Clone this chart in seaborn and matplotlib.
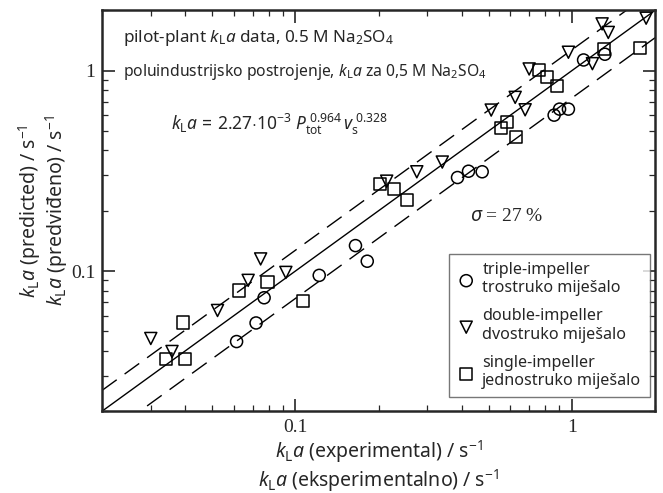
import pandas as pd
import matplotlib
matplotlib.use("Agg")
import matplotlib.pyplot as plt
import seaborn as sns

# data (kLa experimental vs predicted, s^-1)
triple_exp = [0.0613, 0.0721, 0.0771, 0.122, 0.165, 0.182, 0.386, 0.423, 0.474,
              0.863, 0.903, 0.972, 1.103, 1.317]
triple_pred = [0.0445, 0.0551, 0.0736, 0.0952, 0.134, 0.112, 0.293, 0.315, 0.313,
               0.600, 0.643, 0.643, 1.131, 1.208]

double_exp = [0.0300, 0.0358, 0.0523, 0.0675, 0.0749, 0.0924, 0.214, 0.275, 0.340,
              0.511, 0.624, 0.678, 0.701, 0.972, 1.187, 1.287, 1.355, 1.857]
double_pred = [0.0461, 0.0397, 0.0636, 0.0899, 0.115, 0.0985, 0.281, 0.313, 0.350,
               0.636, 0.736, 0.638, 1.020, 1.236, 1.084, 1.712, 1.552, 1.828]

single_exp = [0.0340, 0.0399, 0.0391, 0.0625, 0.0793, 0.107, 0.203, 0.228, 0.253,
              0.553, 0.583, 0.627, 0.760, 0.816, 0.887, 1.309, 1.769]
single_pred = [0.0365, 0.0365, 0.0554, 0.0800, 0.0883, 0.0708, 0.271, 0.257, 0.226,
               0.515, 0.556, 0.465, 1.012, 0.933, 0.839, 1.287, 1.294]

fit_x = [0.02, 2.0]
sigma = 0.27

groups = ["triple-impeller\ntrostruko miješalo",
          "double-impeller\ndvostruko miješalo",
          "single-impeller\njednostruko miješalo"]
markers = ["o", "v", "s"]

df = pd.concat([
    pd.DataFrame({"exp": triple_exp, "pred": triple_pred, "group": groups[0]}),
    pd.DataFrame({"exp": double_exp, "pred": double_pred, "group": groups[1]}),
    pd.DataFrame({"exp": single_exp, "pred": single_pred, "group": groups[2]}),
])

sns.set_style("ticks")
plt.rcParams["font.family"] = ["Noto Sans", "DejaVu Sans"]
plt.rcParams["mathtext.fontset"] = "custom"
plt.rcParams["mathtext.rm"] = "Noto Sans"
plt.rcParams["mathtext.it"] = "Noto Sans:italic"
plt.rcParams["mathtext.sf"] = "Noto Sans"

fig = plt.figure(figsize=(6.63, 4.93), dpi=100)
ax = fig.add_axes([0.154, 0.166, 0.834, 0.813])

# y = x and +/- sigma band
fit = pd.DataFrame({"x": fit_x, "y": fit_x,
                    "up": [v * (1 + sigma) for v in fit_x],
                    "lo": [v * (1 - sigma) for v in fit_x]})
sns.lineplot(data=fit, x="x", y="y", color="black", lw=1.0, ax=ax)
sns.lineplot(data=fit, x="x", y="up", color="black", lw=1.0, ax=ax, dashes=False)
sns.lineplot(data=fit, x="x", y="lo", color="black", lw=1.0, ax=ax, dashes=False)
for ln in ax.lines[1:3]:
    ln.set_dashes([13, 7])

for g, m in zip(groups, markers):
    sub = df[df["group"] == g]
    sns.scatterplot(data=sub, x="exp", y="pred", marker=m, s=75,
                    facecolor="none", edgecolor="black", linewidth=1.1,
                    label=g, ax=ax, zorder=3)

ax.set_xscale("log")
ax.set_yscale("log")
ax.set_xlim(0.02, 2)
ax.set_ylim(0.02, 2)

ax.set_xticks([0.1, 1])
ax.set_xticklabels(["0.1", "1"])
ax.set_yticks([0.1, 1])
ax.set_yticklabels(["0.1", "1"])
ax.tick_params(which="both", direction="in", top=True, right=True)
ax.tick_params(which="major", length=9, width=1.2)
ax.tick_params(which="minor", length=4.5, width=0.9)
for lab in ax.get_xticklabels() + ax.get_yticklabels():
    lab.set_fontfamily("Liberation Serif")
    lab.set_fontsize(14)
ax.tick_params(axis="x", pad=6)
ax.tick_params(axis="y", pad=5)
for sp in ax.spines.values():
    sp.set_linewidth(1.8)

ax.set_xlabel("$k_\\mathrm{L}a$ (experimental) / s$^{-1}$\n"
              "$k_\\mathrm{L}a$ (eksperimentalno) / s$^{-1}$",
              fontsize=14, linespacing=1.1, labelpad=1)
ax.set_ylabel("$k_\\mathrm{L}a$ (predicted) / s$^{-1}$\n"
              "$k_\\mathrm{L}a$ (predviđeno) / s$^{-1}$",
              fontsize=14, linespacing=1.0)
ax.yaxis.set_label_coords(-0.058, 0.5)

ax.text(0.038, 0.93, "pilot-plant $k_\\mathrm{L}a$ data, 0.5 M Na$_2$SO$_4$",
        transform=ax.transAxes, fontsize=12.3, va="center")
ax.text(0.038, 0.845,
        "poluindustrijsko postrojenje, $k_\\mathrm{L}a$ za 0,5 M Na$_2$SO$_4$",
        transform=ax.transAxes, fontsize=11.3, va="center")
ax.text(0.125, 0.715,
        "$k_\\mathrm{L}a\\,=\\,2.27{\\cdot}10^{-3}\\;P_\\mathrm{tot}^{\\;0.964}\\,"
        "v_\\mathrm{s}^{\\;0.328}$",
        transform=ax.transAxes, fontsize=12.5, va="center")
ax.text(0.665, 0.485, "$\\sigma$ = 27 %", transform=ax.transAxes,
        fontsize=14, va="center", family="Liberation Serif")

leg = ax.legend(loc="lower right", bbox_to_anchor=(0.99, 0.035), fontsize=11.6,
                frameon=True, fancybox=False, edgecolor="#555555",
                handletextpad=0.4, borderpad=0.5, labelspacing=0.75,
                handlelength=1.2, borderaxespad=0)
leg.get_frame().set_linewidth(1.0)

fig.savefig("out.png", dpi=100)
